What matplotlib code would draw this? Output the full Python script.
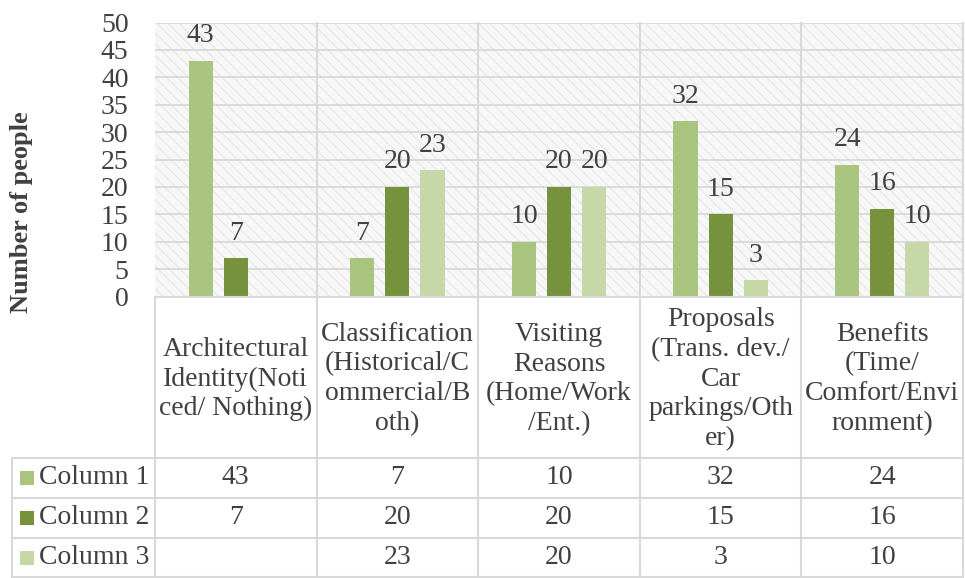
import numpy as np
import matplotlib.pyplot as plt
from matplotlib.patches import Rectangle

# Chart data
categories = [
    'Architectural\nIdentity(Noti\nced/ Nothing)',
    'Classification\n(Historical/C\nommercial/B\noth)',
    'Visiting\nReasons\n(Home/Work\n/Ent.)',
    'Proposals\n(Trans. dev./\nCar\nparkings/Oth\ner)',
    'Benefits\n(Time/\nComfort/Envi\nronment)',
]
series_names = ['Column 1', 'Column 2', 'Column 3']
column1 = [43, 7, 10, 32, 24]
column2 = [7, 20, 20, 15, 16]
column3 = [None, 23, 20, 3, 10]
colors = ['#a9c47f', '#76923c', '#c6d7a8']

plt.rcParams['font.family'] = ['Liberation Serif', 'DejaVu Serif']
plt.rcParams['hatch.linewidth'] = 0.8
text_color = '#404040'
grid_color = '#d9d9d9'
fs = 20

W, H = 965, 578
fig = plt.figure(figsize=(W / 100, H / 100), dpi=100)

# pixel layout of the plot area
left, right, top, bottom = 155, 963, 22.5, 296.5
ax = fig.add_axes([left / W, 1 - bottom / H, (right - left) / W, (bottom - top) / H])

# hatched background
ax.add_patch(Rectangle((0, 0), 1, 1, transform=ax.transAxes, facecolor='#f7f7f7',
                       edgecolor='#e6e6e6', hatch='\\\\\\', lw=0, zorder=0))

x = np.arange(len(categories))
width = 0.149
step = 0.217
series = [column1, column2, column3]
for i, vals in enumerate(series):
    xs = [xi + (i - 1) * step for xi, v in zip(x, vals) if v is not None]
    vs = [v for v in vals if v is not None]
    bars = ax.bar(xs, vs, width=width, color=colors[i], zorder=3)
    for b, v in zip(bars, vs):
        ax.annotate(str(v), (b.get_x() + b.get_width() / 2, v), xytext=(0, 9),
                    textcoords='offset points', ha='center', va='bottom',
                    fontsize=fs, color=text_color, zorder=4)

ax.set_xlim(-0.5, len(categories) - 0.5)
ax.set_ylim(0, 50)
ax.set_yticks(range(0, 51, 5))
ax.set_xticks([])
ax.tick_params(axis='y', length=0, labelsize=fs, labelcolor=text_color, pad=19)
for s in ax.spines.values():
    s.set_visible(False)
for yv in range(5, 51, 5):
    ax.axhline(yv, color=grid_color, lw=1.3, zorder=1)

# overlay in pixel coords for the data table
ov = fig.add_axes([0, 0, 1, 1], facecolor='none')
ov.set_xlim(0, W)
ov.set_ylim(H, 0)
ov.axis('off')

col_w = (right - left) / len(categories)
bounds = [left + k * col_w for k in range(len(categories) + 1)]
row_tops = [458, 498, 538, 578]
lc = grid_color
lw = 1.5
for k, bx in enumerate(bounds):
    ov.plot([bx, bx], [top if k > 0 else bottom, H], color=lc, lw=lw)
ov.plot([12, 12], [row_tops[0], H], color=lc, lw=lw)
ov.plot([left, right], [bottom, bottom], color=lc, lw=lw)
for ry in row_tops[:3]:
    ov.plot([12, right], [ry, ry], color=lc, lw=lw)
ov.plot([12, right], [H - 1, H - 1], color=lc, lw=lw)

for k, cat in enumerate(categories):
    cx = (bounds[k] + bounds[k + 1]) / 2
    ov.text(cx, 379, cat, ha='center', va='center', fontsize=fs,
            color=text_color, linespacing=1.25)

for r, (name, vals) in enumerate(zip(series_names, series)):
    cy = (row_tops[r] + row_tops[r + 1]) / 2
    ov.add_patch(Rectangle((20, cy - 7), 14, 14, facecolor=colors[r], lw=0))
    ov.text(39, cy, name, ha='left', va='center', fontsize=fs, color=text_color)
    for k, v in enumerate(vals):
        if v is None:
            continue
        cx = (bounds[k] + bounds[k + 1]) / 2
        ov.text(cx, cy, str(v), ha='center', va='center', fontsize=fs, color=text_color)

fig.text(22 / W, 1 - 212 / H, 'Number of people', rotation=90, ha='center', va='center',
         fontsize=19, fontweight='bold', color=text_color)

fig.savefig('out.png', dpi=100)
